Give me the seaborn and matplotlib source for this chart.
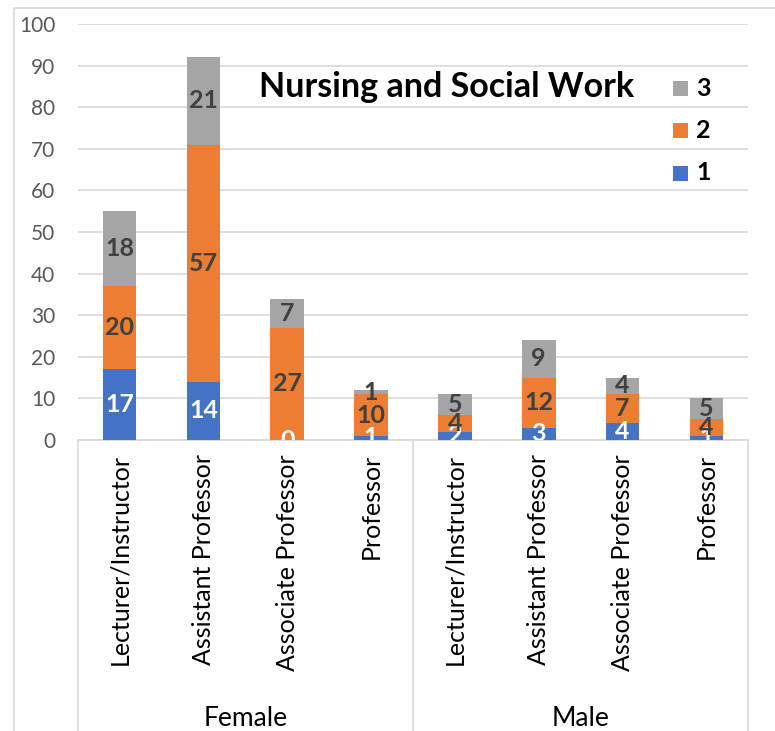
import matplotlib
matplotlib.use("Agg")
import matplotlib.pyplot as plt
import matplotlib.transforms as mtransforms
from matplotlib.lines import Line2D
from matplotlib.patches import Rectangle
import seaborn as sns
import pandas as pd
import numpy as np

# Faculty counts by gender and rank, split into three levels
genders = ["Female", "Male"]
ranks = ["Lecturer/Instructor", "Assistant Professor", "Associate Professor", "Professor"]
level_1 = [17, 14, 0, 1, 2, 3, 4, 1]
level_2 = [20, 57, 27, 10, 4, 12, 7, 4]
level_3 = [18, 21, 7, 1, 5, 9, 4, 5]
series_names = ["1", "2", "3"]
colors = ["#4472C4", "#ED7D31", "#A5A5A5"]
title = "Nursing and Social Work"

sns.set_theme(style="white")
plt.rcParams["font.family"] = ["Lato", "DejaVu Sans"]

keys = [f"{g}|{r}" for g in genders for r in ranks]
df = pd.DataFrame({"key": keys, "l1": level_1, "l2": level_2, "l3": level_3})
df["c1"] = df["l1"]
df["c2"] = df["l1"] + df["l2"]
df["c3"] = df["c2"] + df["l3"]

W, H = 775, 731
fig = plt.figure(figsize=(W / 100, H / 100), dpi=100)
ax = fig.add_axes([77.7 / W, (H - 440) / H, (748.3 - 77.7) / W, (440 - 24) / H])

# Stacked bars drawn as layered cumulative totals
for col, color in zip(["c3", "c2", "c1"], colors[::-1]):
    sns.barplot(data=df, x="key", y=col, order=keys, color=color,
                width=0.4, saturation=1, ax=ax, zorder=3, linewidth=0)

ax.set_ylim(0, 100)
ax.set_xlim(-0.5, len(keys) - 0.5)
ax.set_yticks(np.arange(0, 101, 10))
ax.tick_params(axis="y", length=0, pad=16, labelsize=15, labelcolor="#595959")
ax.yaxis.grid(True, color="#d9d9d9", linewidth=1.2, zorder=0)
ax.set_axisbelow(True)
ax.set_xlabel("")
ax.set_ylabel("")
for s in ["left", "right", "top"]:
    ax.spines[s].set_visible(False)
ax.spines["bottom"].set_color("#d9d9d9")
ax.spines["bottom"].set_linewidth(1.2)

ax.set_xticks(range(len(keys)))
ax.set_xticklabels([k.split("|")[1] for k in keys], rotation=90, fontsize=18,
                   color="#000000", va="top", ha="center")
ax.tick_params(axis="x", length=0, pad=10)

# Value labels centred in each segment
for i, row in df.iterrows():
    segs = [(0, row["l1"], "white"), (row["c1"], row["l2"], "#404040"),
            (row["c2"], row["l3"], "#404040")]
    for bottom, val, tc in segs:
        ax.text(i, bottom + val / 2, f"{val}", ha="center", va="center",
                fontsize=18, fontweight="bold", color=tc, zorder=5, clip_on=True)

# Two-level category axis: separators and group labels
blend = mtransforms.blended_transform_factory(ax.transData, fig.transFigure)
y_top = (H - 440) / H
for xs in [-0.5, 3.5, 7.5]:
    fig.add_artist(Line2D([xs, xs], [0, y_top], transform=blend,
                          color="#d9d9d9", linewidth=1.2))
for gi, g in enumerate(genders):
    ax.text(gi * 4 + 1.5, (H - 718) / H, g, transform=blend, fontsize=19,
            color="#000000", ha="center", va="center")

# Chart title and legend inside the plot area
ax.text(447 / W, (H - 87) / H, title, transform=fig.transFigure, fontsize=24.5,
        fontweight="bold", color="#000000", ha="center", va="center", zorder=6)
leg_y = [173, 130, 88]
for name, color, yy in zip(series_names, colors, leg_y):
    fig.add_artist(Rectangle((673 / W, (H - yy - 8) / H), 15 / W, 15 / H,
                             transform=fig.transFigure, facecolor=color,
                             edgecolor="none"))
    fig.text(696 / W, (H - yy) / H, name, fontsize=18, fontweight="bold",
             color="#000000", ha="left", va="center")

# Chart outline
fig.add_artist(Rectangle((14 / W, -0.05), 1.1, (H - 8) / H + 0.05,
                         transform=fig.transFigure, facecolor="none",
                         edgecolor="#d9d9d9", linewidth=1.2))

fig.savefig("out.png", dpi=100)
